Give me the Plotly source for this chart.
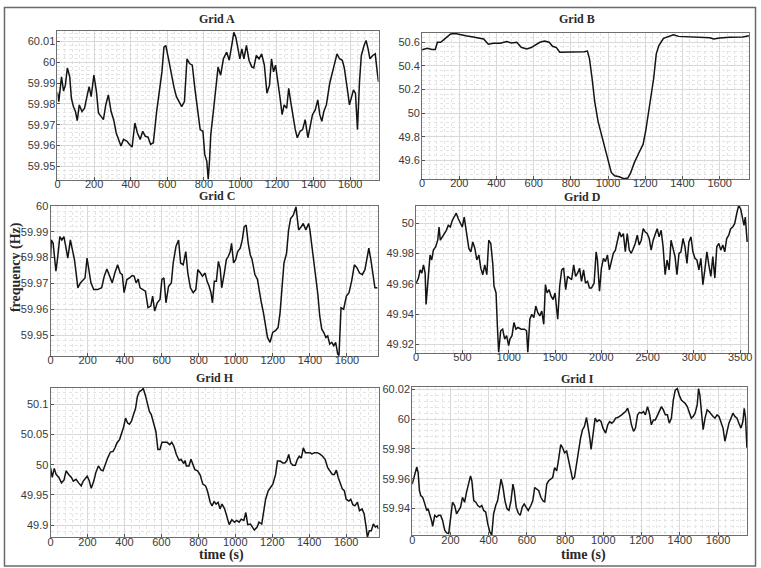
import plotly.graph_objects as go

W, H = 761, 568

# ---------------- data ----------------
a_t = [0,7,22,33,43,54,67,76,87,98,108,119,134,148,163,173,184,199,213,224,238,251,264,278,293,307,321,336,347,361,379,394,408,423,437,452,466,480,495,509,524,542,556,571,582,592,607,621,636,650,665,679,694,708,722,737,751,766,780,795,805,816,824,831,838,852,867,878,892,907,925,939,954,964,975,986,997,1008,1019,1033,1047,1062,1073,1087,1102,1116,1131,1145,1159,1170,1181,1192,1206,1217,1228,1239,1253,1264,1275,1289,1300,1311,1326,1340,1354,1369,1380,1394,1409,1423,1434,1445,1456,1470,1488,1503,1517,1528,1542,1557,1568,1578,1589,1596,1607,1618,1629,1640,1651,1661,1676,1687,1698,1708,1723,1737,1748,1755]
a_f = [59.9856,59.9811,59.9930,59.9862,59.9890,59.9973,59.9930,59.9827,59.9787,59.9763,59.9719,59.9795,59.9763,59.9779,59.9843,59.9883,59.9835,59.9938,59.9859,59.9756,59.9740,59.9724,59.9795,59.9843,59.9763,59.9724,59.9660,59.9621,59.9597,59.9629,59.9621,59.9605,59.9592,59.9708,59.9660,59.9629,59.9668,59.9644,59.9640,59.9605,59.9613,59.9763,59.9867,59.9954,60.0073,60.0081,60.0017,59.9946,59.9883,59.9835,59.9811,59.9787,59.9811,60.0017,59.9994,59.9986,59.9875,59.9779,59.9676,59.9668,59.9557,59.9525,59.9438,59.9525,59.9652,59.9763,59.9875,59.9978,59.9938,60.0017,60.0049,60.0010,60.0089,60.0144,60.0121,60.0073,60.0017,60.0065,60.0017,60.0081,60.0010,59.9978,59.9973,60.0033,60.0017,60.0041,59.9986,59.9851,59.9890,60.0017,59.9954,59.9986,59.9906,59.9827,59.9748,59.9795,59.9779,59.9875,59.9811,59.9732,59.9676,59.9637,59.9668,59.9676,59.9724,59.9637,59.9684,59.9748,59.9771,59.9819,59.9748,59.9716,59.9763,59.9795,59.9898,59.9954,59.9994,60.0041,60.0017,60.0010,59.9973,59.9898,59.9843,59.9795,59.9827,59.9867,59.9851,59.9676,59.9906,60.0033,60.0081,60.0105,60.0065,60.0017,60.0033,60.0041,59.9954,59.9906]

b_t = [0,27,53,71,82,100,117,135,153,178,206,235,267,302,331,356,384,420,455,480,509,533,562,587,605,633,658,683,701,722,740,782,836,871,889,900,914,928,946,964,981,999,1017,1035,1060,1085,1106,1120,1141,1166,1188,1202,1216,1230,1245,1259,1273,1298,1326,1351,1380,1422,1469,1511,1547,1568,1600,1654,1707,1725,1757]
b_f = [50.536,50.550,50.539,50.539,50.600,50.600,50.622,50.647,50.670,50.675,50.664,50.656,50.647,50.636,50.628,50.583,50.592,50.592,50.606,50.594,50.600,50.558,50.544,50.555,50.572,50.600,50.611,50.600,50.566,50.555,50.516,50.516,50.516,50.519,50.525,50.460,50.293,50.097,49.930,49.818,49.706,49.594,49.497,49.469,49.460,49.444,49.449,49.488,49.580,49.664,49.734,49.846,49.986,50.125,50.293,50.502,50.572,50.634,50.650,50.664,50.650,50.647,50.642,50.645,50.639,50.628,50.636,50.642,50.642,50.645,50.656]

c_t = [0,4,14,21,29,39,50,61,72,82,93,107,118,129,140,147,161,175,186,197,208,218,233,254,276,290,304,319,333,347,362,376,387,397,412,426,440,451,462,473,483,498,512,526,541,551,562,576,591,601,612,623,637,652,662,677,691,702,716,730,741,755,770,784,795,809,820,834,845,856,866,874,884,895,906,916,924,938,949,959,970,977,988,999,1010,1024,1035,1045,1056,1067,1078,1088,1103,1117,1128,1138,1149,1160,1171,1185,1199,1214,1228,1239,1249,1260,1274,1285,1296,1310,1325,1339,1353,1364,1378,1393,1400,1411,1421,1432,1443,1453,1464,1475,1486,1496,1507,1518,1529,1539,1550,1557,1568,1582,1597,1611,1625,1640,1654,1668,1683,1697,1708,1718,1729,1740,1751,1765]
c_f = [59.9798,59.9868,59.9855,59.9792,59.9747,59.9804,59.9881,59.9868,59.9881,59.9843,59.9798,59.9868,59.9830,59.9792,59.9728,59.9683,59.9702,59.9715,59.9721,59.9798,59.9740,59.9702,59.9676,59.9676,59.9683,59.9728,59.9756,59.9728,59.9702,59.9740,59.9772,59.9740,59.9734,59.9664,59.9715,59.9721,59.9730,59.9728,59.9702,59.9717,59.9683,59.9676,59.9670,59.9606,59.9612,59.9651,59.9593,59.9625,59.9638,59.9715,59.9721,59.9625,59.9689,59.9702,59.9779,59.9843,59.9868,59.9779,59.9772,59.9823,59.9740,59.9683,59.9664,59.9676,59.9753,59.9740,59.9728,59.9740,59.9708,59.9689,59.9664,59.9625,59.9708,59.9708,59.9785,59.9756,59.9683,59.9740,59.9792,59.9804,59.9823,59.9855,59.9779,59.9792,59.9823,59.9836,59.9868,59.9919,59.9926,59.9855,59.9811,59.9792,59.9734,59.9715,59.9657,59.9625,59.9587,59.9536,59.9491,59.9472,59.9510,59.9517,59.9529,59.9587,59.9664,59.9779,59.9817,59.9907,59.9951,59.9964,59.9996,59.9907,59.9919,59.9932,59.9907,59.9932,59.9907,59.9843,59.9779,59.9734,59.9657,59.9574,59.9523,59.9510,59.9491,59.9497,59.9465,59.9472,59.9459,59.9472,59.9427,59.9421,59.9606,59.9600,59.9651,59.9664,59.9708,59.9772,59.9760,59.9740,59.9734,59.9753,59.9798,59.9836,59.9792,59.9728,59.9683,59.9683]

d_t = [0,25,43,61,79,97,107,125,150,168,186,211,233,247,261,283,304,326,347,369,390,412,433,455,476,498,519,533,548,569,591,612,634,655,677,698,720,741,763,784,806,827,841,863,877,891,913,934,956,977,999,1013,1035,1056,1078,1099,1135,1171,1192,1206,1228,1249,1271,1292,1314,1335,1357,1378,1396,1414,1436,1457,1479,1500,1529,1550,1572,1593,1615,1636,1658,1679,1701,1722,1743,1765,1786,1808,1829,1851,1872,1894,1922,1944,1958,1980,2001,2023,2044,2066,2087,2109,2130,2152,2173,2195,2216,2238,2259,2280,2302,2323,2345,2366,2388,2409,2431,2452,2474,2495,2517,2538,2560,2581,2603,2624,2646,2667,2689,2710,2732,2753,2775,2796,2817,2839,2860,2882,2903,2925,2946,2968,2989,3011,3032,3054,3075,3097,3118,3140,3161,3183,3204,3226,3247,3269,3290,3312,3333,3354,3376,3397,3419,3440,3462,3483,3505,3526,3541,3555,3575]
d_f = [49.9605,49.9638,49.9692,49.9670,49.9725,49.9670,49.9465,49.9584,49.9790,49.9757,49.9822,49.9844,49.9887,49.9974,49.9887,49.9909,49.9931,49.9952,49.9985,49.9974,50.0017,50.0039,50.0065,50.0028,49.9996,49.9974,50.0039,49.9974,49.9898,49.9833,49.9811,49.9876,49.9833,49.9757,49.9790,49.9703,49.9660,49.9725,49.9660,49.9887,49.9866,49.9735,49.9584,49.9540,49.9324,49.9150,49.9291,49.9302,49.9237,49.9259,49.9194,49.9237,49.9259,49.9345,49.9302,49.9313,49.9302,49.9302,49.9291,49.9150,49.9367,49.9399,49.9378,49.9454,49.9410,49.9389,49.9421,49.9334,49.9595,49.9540,49.9562,49.9519,49.9497,49.9540,49.9367,49.9584,49.9692,49.9703,49.9562,49.9649,49.9638,49.9627,49.9725,49.9649,49.9670,49.9703,49.9616,49.9692,49.9605,49.9616,49.9573,49.9573,49.9605,49.9811,49.9757,49.9551,49.9703,49.9768,49.9746,49.9790,49.9692,49.9757,49.9801,49.9822,49.9887,49.9941,49.9909,49.9931,49.9811,49.9931,49.9822,49.9801,49.9833,49.9866,49.9920,49.9855,49.9887,49.9963,49.9941,49.9931,49.9898,49.9822,49.9887,49.9931,49.9963,49.9909,49.9952,49.9844,49.9660,49.9757,49.9692,49.9887,49.9833,49.9779,49.9660,49.9801,49.9811,49.9898,49.9844,49.9735,49.9876,49.9909,49.9811,49.9768,49.9757,49.9692,49.9768,49.9595,49.9692,49.9811,49.9725,49.9649,49.9779,49.9638,49.9844,49.9866,49.9822,49.9855,49.9811,49.9898,49.9920,49.9963,49.9974,49.9996,50.0061,50.0115,50.0093,50.0017,49.9985,50.0039,49.9876]

h_t = [0,9,20,30,45,59,73,84,98,113,123,138,152,166,177,188,198,209,220,234,245,259,274,284,295,309,324,338,349,359,374,384,395,406,417,427,438,449,460,470,481,492,502,513,524,535,545,560,570,581,592,603,617,631,645,656,667,681,696,706,721,728,735,749,760,771,781,796,810,824,839,849,864,874,885,896,907,917,928,942,957,967,981,996,1007,1021,1032,1046,1057,1067,1082,1092,1103,1118,1128,1143,1153,1164,1178,1193,1203,1218,1228,1243,1257,1268,1279,1289,1300,1311,1325,1336,1346,1357,1368,1379,1389,1404,1414,1429,1443,1457,1472,1486,1500,1511,1525,1536,1547,1557,1568,1579,1590,1600,1615,1625,1636,1647,1661,1672,1686,1697,1708,1715,1725,1736,1747,1758,1768,1775]
h_f = [49.995,49.979,49.994,49.984,49.979,49.970,49.975,49.990,49.984,49.979,49.973,49.976,49.970,49.965,49.973,49.977,49.981,49.974,49.961,49.973,49.987,49.998,49.991,49.990,50.001,50.011,50.021,50.022,50.028,50.036,50.042,50.050,50.062,50.077,50.069,50.067,50.072,50.083,50.093,50.113,50.121,50.123,50.126,50.115,50.099,50.088,50.083,50.066,50.055,50.025,50.025,50.037,50.037,50.037,50.033,50.037,50.031,50.017,50.007,50.009,50.002,50.007,49.998,49.998,50.009,49.999,49.992,49.990,49.983,49.968,49.965,49.957,49.938,49.932,49.939,49.935,49.938,49.927,49.935,49.927,49.913,49.901,49.909,49.905,49.908,49.905,49.910,49.908,49.921,49.901,49.902,49.897,49.892,49.897,49.905,49.902,49.921,49.943,49.957,49.965,49.968,49.984,50.006,50.006,50.003,50.003,50.007,50.017,50.003,49.999,49.999,50.009,50.014,50.011,50.028,50.020,50.020,50.020,50.018,50.020,50.020,50.018,50.014,50.009,49.995,49.990,49.984,49.984,49.991,49.979,49.970,49.960,49.957,49.943,49.940,49.943,49.934,49.932,49.938,49.924,49.927,49.919,49.897,49.880,49.891,49.891,49.902,49.897,49.899,49.894]

i_t = [0,7,17,24,31,38,45,55,66,76,83,94,101,107,118,128,139,149,159,170,180,191,201,211,222,232,243,253,263,274,284,295,305,312,322,333,343,354,364,374,385,395,406,416,426,437,447,458,465,475,485,496,506,517,527,534,544,555,565,576,586,596,607,621,631,641,652,662,673,683,693,704,714,725,735,745,756,766,777,787,797,808,818,829,839,849,860,870,881,891,901,912,919,929,936,947,957,967,978,988,998,1012,1023,1033,1044,1054,1064,1075,1085,1096,1106,1116,1127,1137,1147,1158,1168,1179,1189,1200,1210,1220,1231,1241,1251,1262,1272,1283,1293,1304,1314,1324,1335,1345,1356,1366,1376,1387,1397,1408,1418,1428,1439,1449,1460,1470,1480,1491,1498,1505,1512,1522,1532,1543,1553,1564,1574,1584,1595,1605,1616,1626,1636,1647,1657,1668,1678,1688,1699,1709,1720,1730,1737,1744,1751]
i_f = [59.9564,59.9597,59.9641,59.9678,59.9641,59.9519,59.9486,59.9475,59.9431,59.9387,59.9398,59.9354,59.9320,59.9281,59.9354,59.9343,59.9354,59.9354,59.9320,59.9254,59.9236,59.9232,59.9320,59.9442,59.9420,59.9365,59.9387,59.9409,59.9475,59.9442,59.9508,59.9575,59.9619,59.9586,59.9453,59.9442,59.9420,59.9409,59.9420,59.9387,59.9376,59.9298,59.9243,59.9221,59.9365,59.9420,59.9453,59.9541,59.9597,59.9541,59.9453,59.9398,59.9387,59.9453,59.9564,59.9519,59.9409,59.9369,59.9354,59.9409,59.9431,59.9409,59.9387,59.9420,59.9453,59.9541,59.9530,59.9519,59.9475,59.9453,59.9442,59.9564,59.9586,59.9597,59.9608,59.9674,59.9652,59.9729,59.9829,59.9807,59.9773,59.9785,59.9718,59.9663,59.9597,59.9608,59.9696,59.9807,59.9873,59.9928,59.9950,60.0010,59.9961,59.9873,59.9796,59.9895,60.0006,59.9983,59.9994,59.9983,59.9939,59.9906,59.9961,59.9983,59.9972,59.9983,60.0006,60.0010,60.0017,60.0028,60.0039,60.0050,60.0072,60.0028,59.9961,59.9917,59.9939,60.0028,60.0045,60.0039,60.0050,60.0028,60.0083,60.0039,59.9961,59.9994,59.9994,60.0028,60.0050,60.0083,60.0061,60.0028,60.0028,59.9972,60.0006,60.0127,60.0193,60.0204,60.0160,60.0127,60.0116,60.0105,60.0083,60.0039,60.0006,60.0017,60.0039,60.0094,60.0204,60.0160,60.0050,59.9928,60.0006,60.0061,60.0050,60.0028,60.0017,60.0006,60.0028,60.0017,59.9983,59.9939,59.9851,59.9917,59.9972,60.0006,60.0039,60.0017,60.0006,59.9972,59.9939,59.9983,60.0072,60.0006,59.9807]

titles = ["Grid A", "Grid B", "Grid C", "Grid D", "Grid H", "Grid I"]

x_ticks_1800 = [0, 200, 400, 600, 800, 1000, 1200, 1400, 1600]
x_ticks_3600 = [0, 500, 1000, 1500, 2000, 2500, 3000, 3500]

a_yticks = [59.95, 59.96, 59.97, 59.98, 59.99, 60.0, 60.01]
a_ylabels = ["59.95", "59.96", "59.97", "59.98", "59.99", "60", "60.01"]
b_yticks = [49.6, 49.8, 50.0, 50.2, 50.4, 50.6]
b_ylabels = ["49.6", "49.8", "50", "50.2", "50.4", "50.6"]
c_yticks = [59.95, 59.96, 59.97, 59.98, 59.99, 60.0]
c_ylabels = ["59.95", "59.96", "59.97", "59.98", "59.99", "60"]
d_yticks = [49.92, 49.94, 49.96, 49.98, 50.0]
d_ylabels = ["49.92", "49.94", "49.96", "49.98", "50"]
h_yticks = [49.9, 49.95, 50.0, 50.05, 50.1]
h_ylabels = ["49.9", "49.95", "50", "50.05", "50.1"]
i_yticks = [59.94, 59.96, 59.98, 60.0, 60.02]
i_ylabels = ["59.94", "59.96", "59.98", "60", "60.02"]

# ---------------- layout (pixel boxes of each panel) ----------------
panels = [
    # series, box (x0,y0,x1,y1 px), xrange, yrange, xticks, xminor, yticks, ylabels, yminor
    (a_t, a_f, (55, 25, 379, 176), [0, 1755], [59.9433, 60.0152], x_ticks_1800, 40, a_yticks, a_ylabels, 0.002),
    (b_t, b_f, (423, 27, 753, 175), [0, 1758], [49.44, 50.681], x_ticks_1800, 40, b_yticks, b_ylabels, 0.04),
    (c_t, c_f, (48, 202, 378, 354), [0, 1765], [59.9418, 60.0], x_ticks_1800, 40, c_yticks, c_ylabels, 0.002),
    (d_t, d_f, (417, 202, 752, 351), [0, 3585], [49.9143, 50.0113], x_ticks_3600, 100, d_yticks, d_ylabels, 0.004),
    (h_t, h_f, (48, 386, 379, 537), [0, 1775], [49.88, 50.127], x_ticks_1800, 40, h_yticks, h_ylabels, 0.01),
    (i_t, i_f, (413, 385, 751, 535), [0, 1752], [59.922, 60.0215], x_ticks_1800, 40, i_yticks, i_ylabels, 0.004),
]

TICKFONT = dict(family="Liberation Sans Narrow, Arial Narrow, Liberation Sans, Arial, sans-serif",
                size=11, color="#3a3a3a")
SERIF = "Liberation Serif, Times New Roman, DejaVu Serif, serif"

fig = go.Figure()
layout = dict(
    width=W, height=H, margin=dict(l=0, r=0, t=0, b=0),
    paper_bgcolor="white", plot_bgcolor="white", showlegend=False,
    annotations=[], shapes=[],
)

for k, (xs, ys, box, xr, yr, xt, xminor, yt, yl, yminor) in enumerate(panels):
    n = "" if k == 0 else str(k + 1)
    x0, y0, x1, y1 = box
    fig.add_trace(go.Scatter(x=xs, y=ys, mode="lines",
                             line=dict(color="#141414", width=1.5),
                             xaxis="x" + n, yaxis="y" + n, hoverinfo="skip"))
    common = dict(showline=True, mirror=True, linecolor="#6e6e6e", linewidth=1,
                  ticks="inside", ticklen=3, tickcolor="#555",
                  showgrid=True, gridcolor="#d9d9d9", gridwidth=1,
                  zeroline=False, tickfont=TICKFONT, fixedrange=True)
    layout["xaxis" + n] = dict(
        common, domain=[x0 / W, x1 / W], range=xr, anchor="y" + n,
        tickmode="array", tickvals=xt, ticktext=[str(v) for v in xt],
        minor=dict(tick0=0, dtick=xminor, showgrid=True, gridcolor="#e4e4e4",
                   griddash="dot", gridwidth=1, ticks=""),
        ticklabelstandoff=-6,
    )
    layout["yaxis" + n] = dict(
        common, domain=[1 - y1 / H, 1 - y0 / H], range=yr, anchor="x" + n,
        tickmode="array", tickvals=yt, ticktext=yl,
        minor=dict(tick0=yt[0], dtick=yminor, showgrid=True, gridcolor="#e4e4e4",
                   griddash="dot", gridwidth=1, ticks=""),
        ticklabelstandoff=-1,
    )

# panel titles and axis labels (pixel positions)
title_pos = [(216, 13), (579, 13), (216, 192), (585, 193), (214, 376), (580, 377)]
for t, (px, py) in zip(titles, title_pos):
    layout["annotations"].append(dict(
        text="<b>%s</b>" % t, x=px / W, y=1 - py / H, xref="paper", yref="paper",
        showarrow=False, xanchor="center", yanchor="middle",
        font=dict(family=SERIF, size=12, color="#2a2a2a")))

for px in (221, 586):
    layout["annotations"].append(dict(
        text="<b>time (s)</b>", x=px / W, y=1 - 555 / H, xref="paper", yref="paper",
        showarrow=False, xanchor="center", yanchor="middle",
        font=dict(family=SERIF, size=14, color="#2a2a2a")))

layout["annotations"].append(dict(
    text="<b>frequency (Hz)</b>", x=13 / W, y=1 - 264 / H, xref="paper", yref="paper",
    showarrow=False, xanchor="center", yanchor="middle", textangle=-90,
    font=dict(family=SERIF, size=14, color="#2a2a2a")))

# outer frame of the figure
layout["shapes"].append(dict(type="rect", xref="paper", yref="paper",
                             x0=1.5 / W, x1=759.5 / W, y0=1 - 566 / H, y1=1 - 1.5 / H,
                             line=dict(color="#6a6a6a", width=1.5)))

fig.update_layout(**layout)
fig.write_html("out.html",
               config={"displayModeBar": False},
               post_script="document.body.style.margin='0';document.body.style.overflow='hidden';")
